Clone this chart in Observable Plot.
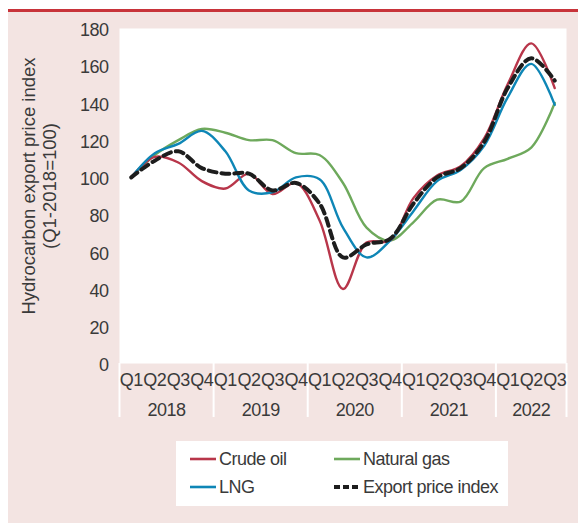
<!DOCTYPE html>
<html><head><meta charset="utf-8">
<script src="https://cdn.jsdelivr.net/npm/d3@7"></script>
<script src="https://cdn.jsdelivr.net/npm/@observablehq/plot@0.6"></script>
<style>
body{margin:0;background:#fff;}
#wrap{position:relative;width:578px;height:523px;overflow:hidden;font-family:"Liberation Sans",Arial,sans-serif;}
#panel{position:absolute;left:8px;top:11px;right:0;bottom:0;background:#f3e4e2;}
#rule{position:absolute;left:8px;top:9px;right:0;height:2.5px;background:#c8333a;}
#chart{position:absolute;left:0;top:0;}
#legend{position:absolute;left:176px;top:441px;width:332px;height:65px;background:#fff;font-size:18px;color:#3a3a3a;letter-spacing:-0.5px;}
.item{position:absolute;display:flex;align-items:center;height:22px;white-space:nowrap;}
.item svg{margin-right:3px;}
</style>
</head><body>
<div id="wrap">
  <div id="panel"></div>
  <div id="rule"></div>
  <div id="chart"></div>
  <div id="legend"></div>
</div>
<script>
const quarterLabels = ["Q1","Q2","Q3","Q4","Q1","Q2","Q3","Q4","Q1","Q2","Q3","Q4","Q1","Q2","Q3","Q4","Q1","Q2","Q3"];
const periodYears = ["2018","2018","2018","2018","2019","2019","2019","2019","2020","2020","2020","2020","2021","2021","2021","2021","2022","2022","2022"];
const yTicks = [0,20,40,60,80,100,120,140,160,180];

const crudeOil    = [100,111,108,98,94,102,91,97,77,40,65,66,89,101,106,121,150,172,148];
const naturalGas  = [100,112,120,126,124,120,120,113,112,97,73,66,76,88,87,105,110,116,140];
const lng         = [100,113,118,125,114,93,92,100,99,73,57,66,82,98,104,117,143,161,139];
const exportIndex = [100,109,114,105,102,102,93,97,86,57,64,67,86,100,105,119,148,164,152];

const seriesNames = ["Crude oil","Natural gas","LNG","Export price index"];
const seriesColors = ["#b8364a","#6ea95c","#0e86b6","#1d1d1d"];

const idx = d3.range(quarterLabels.length);
const rows = (vals) => vals.map((v, i) => ({i, v}));

const years = Array.from(new Set(periodYears));
const yearCenters = years.map(y => d3.mean(idx.filter(i => periodYears[i] === y)));
const yearByCenter = new Map(yearCenters.map((c, k) => [c, years[k]]));
const boundaries = [-0.5, ...years.map(y => d3.max(idx.filter(i => periodYears[i] === y)) + 0.5)];

const lineOpts = (vals, k, extra = {}) => Plot.line(rows(vals), {
  x: "i", y: "v", stroke: seriesColors[k], strokeWidth: 2.4, curve: "catmull-rom", ...extra
});

const chart = Plot.plot({
  width: 578, height: 436,
  marginLeft: 119, marginRight: 12, marginTop: 28, marginBottom: 73,
  style: {background: "transparent", fontSize: "18px", fontFamily: '"Liberation Sans", Arial, sans-serif', color: "#3a3a3a", letterSpacing: "-0.5px"},
  x: {domain: [-0.5, quarterLabels.length - 0.5]},
  y: {domain: [0, 180]},
  marks: [
    Plot.frame({fill: "white"}),
    Plot.ruleX(boundaries, {y1: 0, y2: -29, stroke: "white", strokeWidth: 2}),
    Plot.axisY(yTicks, {tickSize: 0, tickPadding: 11, label: null, dy: 2}),
    Plot.axisX(idx, {tickSize: 0, tickPadding: 10, tickFormat: i => quarterLabels[i], label: null}),
    Plot.axisX(yearCenters, {tickSize: 0, tickPadding: 40, tickFormat: c => yearByCenter.get(c), label: null}),
    Plot.text(["Hydrocarbon export price index"], {text: d => d, frameAnchor: "left", rotate: -90, dx: -90, dy: -10, textAnchor: "middle", lineAnchor: "middle", fill: "#3a3a3a", fontSize: 18.5, style: "letter-spacing:0"}),
    Plot.text(["(Q1-2018=100)"], {text: d => d, frameAnchor: "left", rotate: -90, dx: -69, dy: -10, textAnchor: "middle", lineAnchor: "middle", fill: "#3a3a3a", fontSize: 18.5}),
    lineOpts(naturalGas, 1),
    lineOpts(crudeOil, 0),
    lineOpts(lng, 2),
    lineOpts(exportIndex, 3, {strokeWidth: 4, strokeDasharray: "8,5"})
  ]
});
chart.querySelectorAll("text").forEach(t => {
  if (t.textContent.startsWith("Hydrocarbon") || t.textContent.startsWith("(Q1")) t.style.letterSpacing = "0px";
});
document.getElementById("chart").appendChild(chart);

// legend
const legend = document.getElementById("legend");
const pos = [[14, 7], [158, 7], [14, 35], [158, 35]];
seriesNames.forEach((name, k) => {
  const [lx, ly] = pos[k];
  const div = document.createElement("div");
  div.className = "item";
  div.style.left = lx + "px";
  div.style.top = ly + "px";
  const dashed = k === 3;
  div.innerHTML = `<svg width="26" height="10"><line x1="0" y1="5" x2="26" y2="5" stroke="${seriesColors[k]}" stroke-width="${dashed ? 4 : 2.6}" ${dashed ? 'stroke-dasharray="6,3"' : ''}/></svg><span>${name}</span>`;
  legend.appendChild(div);
});
</script>
</body></html>
